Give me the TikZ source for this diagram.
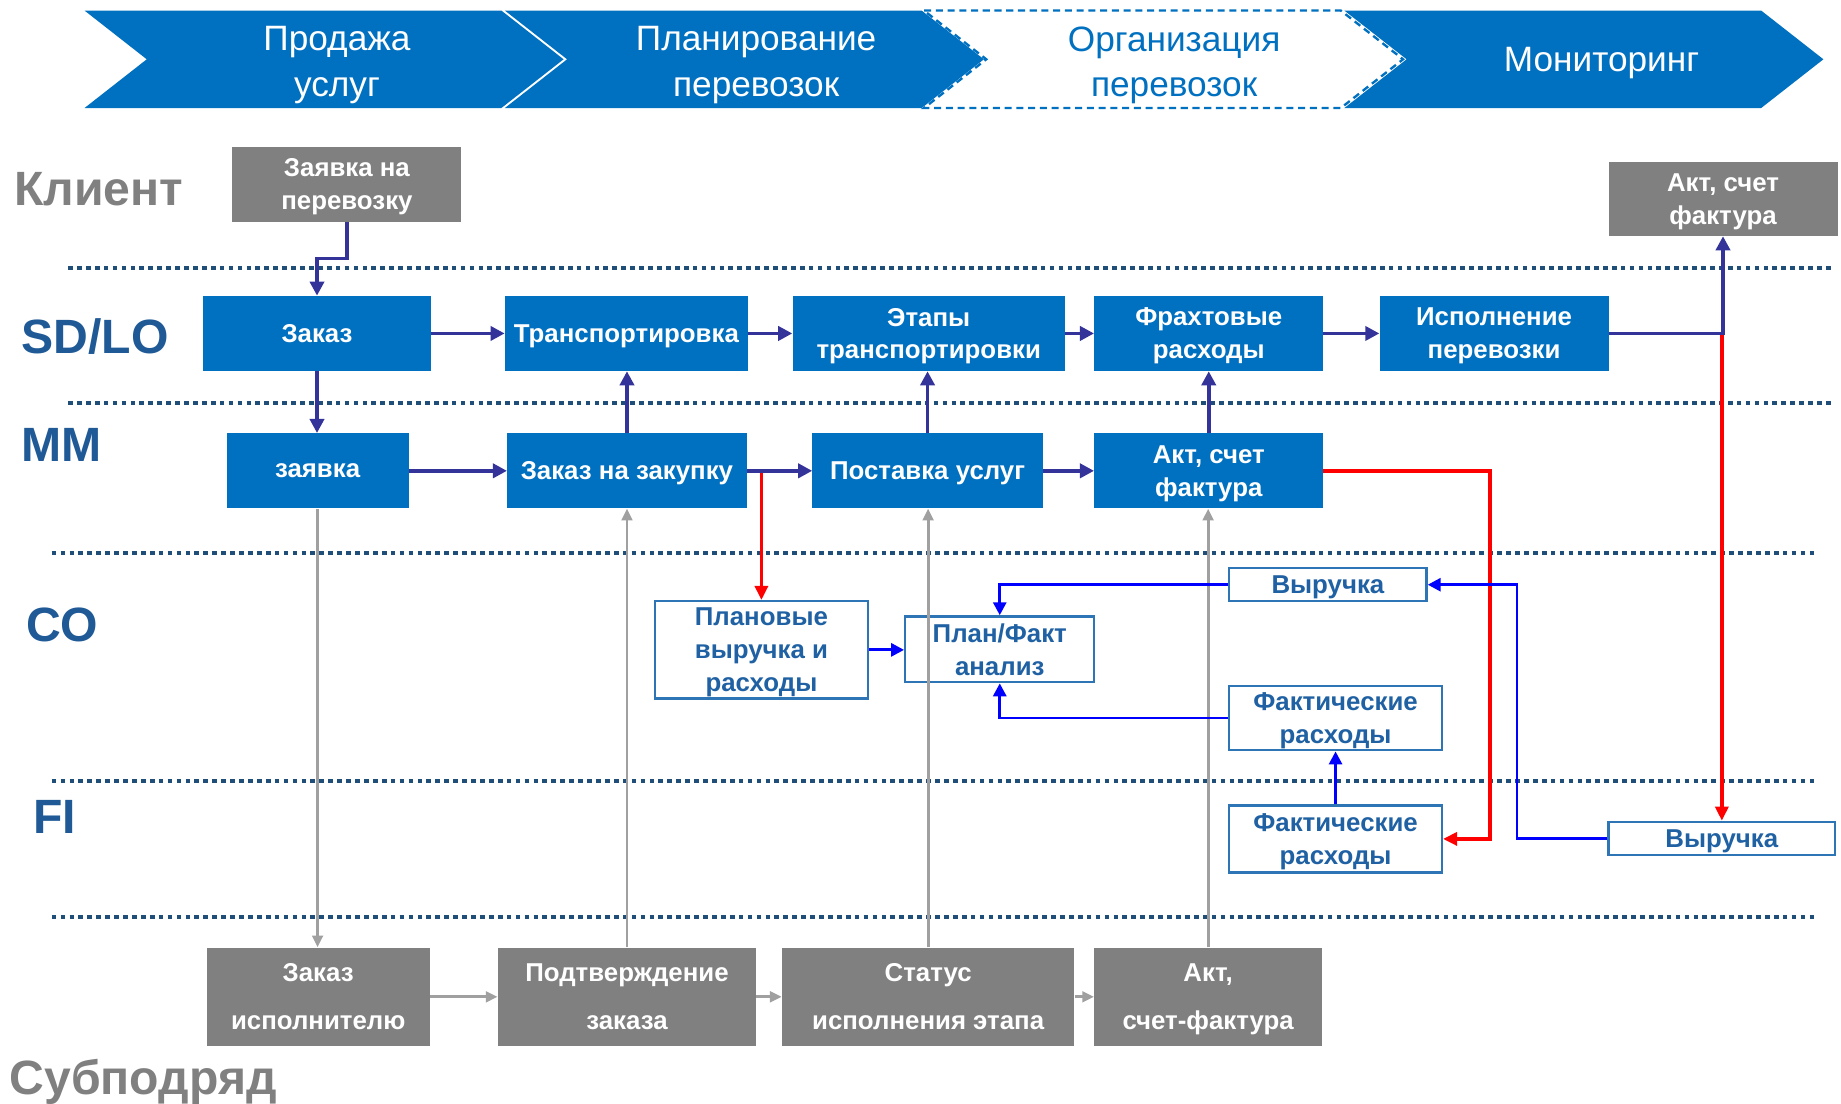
\documentclass[tikz,border=0pt]{standalone}
\usepackage{fontspec}
\setmainfont{Liberation Sans}
\usetikzlibrary{arrows.meta,positioning}
\definecolor{pblue}{RGB}{0,112,192}
\definecolor{pgray}{RGB}{128,128,128}
\definecolor{lane}{RGB}{31,89,150}
\definecolor{dotblue}{RGB}{31,78,121}
\definecolor{indigo}{RGB}{51,51,153}
\definecolor{cotext}{RGB}{31,97,163}
\definecolor{coedge}{RGB}{46,117,182}
\definecolor{garrow}{RGB}{160,160,160}
\tikzstyle{chev} = [fill=pblue]
\tikzstyle{chevtext} = [align=center,inner sep=0,text depth=0pt,font=\fontsize{30}{39}\selectfont]
\tikzstyle{lanetext} = [anchor=base west,inner sep=0,font=\fontsize{41}{48}\selectfont\bfseries]
\tikzstyle{lanesep} = [dotblue,line width=3.5pt,dash pattern=on 4pt off 3.6pt]
\tikzstyle{box} = [rectangle,inner sep=0,align=center,text depth=0pt,font=\fontsize{22}{28}\selectfont\bfseries]
\tikzstyle{bluebox} = [box,fill=pblue,text=white]
\tikzstyle{graybox} = [box,fill=pgray,text=white]
\tikzstyle{subbox} = [graybox,font=\fontsize{22}{41}\selectfont\bfseries]
\tikzstyle{cobox} = [box,draw=coedge,line width=2pt,fill=white,text=cotext]
\tikzstyle{flowline} = [indigo,line width=3pt,-{Triangle[length=12pt,width=12pt]}]
\tikzstyle{redline} = [red,line width=3pt,-{Triangle[length=12pt,width=11pt]}]
\tikzstyle{blueline} = [blue,line width=2.5pt,-{Triangle[length=11pt,width=11pt]}]
\tikzstyle{grayline} = [garrow,line width=2.5pt,-{Triangle[length=10pt,width=9pt]}]
\def \rowh {64}
\def \subh {84}

\begin{document}
\begin{tikzpicture}[x=1pt,y=-1pt]
  \useasboundingbox (0,0) rectangle (1568,940);
  \fill[chev] (72,9) -- ++(355,0) -- ++(53,41.5) -- ++(-53,41.5) -- ++(-355,0) -- ++(53,-41.5) -- cycle;
  \fill[chev] (430,9) -- ++(355,0) -- ++(53,41.5) -- ++(-53,41.5) -- ++(-355,0) -- ++(53,-41.5) -- cycle;
  \draw[pblue,line width=2pt,dash pattern=on 6pt off 4pt,fill=white] (787,9) -- ++(355,0) -- ++(53,41.5) -- ++(-53,41.5) -- ++(-355,0) -- ++(53,-41.5) -- cycle;
  \fill[chev] (1145,9) -- ++(355,0) -- ++(53,41.5) -- ++(-53,41.5) -- ++(-355,0) -- ++(53,-41.5) -- cycle;
  \node[chevtext,text=white] (sale) at (287,52.5) {Продажа\\услуг};
  \node[chevtext,text=white] (plng) at (644,52.5) {Планирование\\перевозок};
  \node[chevtext,text=pblue] (orgn) at (1000,52.5) {Организация\\перевозок};
  \node[chevtext,text=white] (mont) at (1364,51) {Мониторинг};

  \draw[lanesep] (58,228) -- (1560,228);
  \draw[lanesep] (58,343) -- (1560,343);
  \draw[lanesep] (44,471) -- (1548,471);
  \draw[lanesep] (44,665) -- (1548,665);
  \draw[lanesep] (44,781) -- (1548,781);

  \node[lanetext,text=pgray] (client) at (12,175) {Клиент};
  \node[lanetext,text=lane] (sdlo) at (18,301) {SD/LO};
  \node[lanetext,text=lane] (mm) at (18,393) {MM};
  \node[lanetext,text=lane] (co) at (22,546) {CO};
  \node[lanetext,text=lane] (fi) at (28,710) {FI};
  \node[lanetext,text=pgray] (subc) at (8,932) {Субподряд};

  \node[graybox,minimum width=195,minimum height=64] (req) at (295.5,157) {Заявка на\\перевозку};
  \node[graybox,minimum width=195,minimum height=63] (actc) at (1467.5,169.5) {Акт, счет\\фактура};

  \node[bluebox,minimum width=194,minimum height=\rowh] (order) at (270,284) {Заказ};
  \node[bluebox,minimum width=207,minimum height=\rowh] (transp) at (533.5,284) {Транспортировка};
  \node[bluebox,minimum width=232,minimum height=\rowh] (stages) at (791,284) {Этапы\\транспортировки};
  \node[bluebox,minimum width=195,minimum height=\rowh] (freight) at (1029.5,284) {Фрахтовые\\расходы};
  \node[bluebox,minimum width=195,minimum height=\rowh] (exec) at (1272.5,284) {Исполнение\\перевозки};

  \node[bluebox,minimum width=155,minimum height=\rowh] (request) at (270.5,401) {заявка};
  \node[bluebox,minimum width=204,minimum height=\rowh] (purchase) at (534,401) {Заказ на закупку};
  \node[bluebox,minimum width=196,minimum height=\rowh] (supply) at (790,401) {Поставка услуг};
  \node[bluebox,minimum width=195,minimum height=\rowh] (invoice) at (1029.5,401) {Акт, счет\\фактура};

  \node[cobox,minimum width=181,minimum height=83] (plan) at (648.5,553.5) {Плановые\\выручка и\\расходы};
  \node[cobox,minimum width=161,minimum height=56] (analysis) at (851.5,553) {План/Факт\\анализ};
  \node[cobox,minimum width=168,minimum height=28] (revco) at (1131,498) {Выручка};
  \node[cobox,minimum width=181,minimum height=55] (costco) at (1137.5,611.5) {Фактические\\расходы};
  \node[cobox,minimum width=181,minimum height=57] (costfi) at (1137.5,714.5) {Фактические\\расходы};
  \node[cobox,minimum width=193,minimum height=28] (revfi) at (1466.5,714) {Выручка};

  \node[subbox,minimum width=190,minimum height=\subh] (suborder) at (271,849) {Заказ\\исполнителю};
  \node[subbox,minimum width=220,minimum height=\subh] (confirm) at (534,849) {Подтверждение\\заказа};
  \node[subbox,minimum width=249,minimum height=\subh] (status) at (790.5,849) {Статус\\исполнения этапа};
  \node[subbox,minimum width=194,minimum height=\subh] (subinv) at (1029,849) {Акт,\\счет-фактура};

  \draw[grayline] (request.south) -- (request.south |- suborder.north);
  \draw[grayline] (confirm.north) -- (confirm.north |- purchase.south);
  \draw[grayline] (status.north) -- (status.north |- supply.south);
  \draw[grayline] (subinv.north) -- (subinv.north |- invoice.south);
  \draw[grayline] (suborder.east) -- (confirm.west);
  \draw[grayline] (confirm.east) -- (status.west);
  \draw[grayline] (status.east) -- (subinv.west);

  \draw[redline] (plan.north |- purchase.east) -- (plan.north);
  \draw[redline] (invoice.east) -- ++(142,0) |- (costfi.east);
  \draw[redline] (revfi.north |- exec.east) -- (revfi.north);

  \draw[blueline] (revco.west) -| (analysis.north);
  \draw[blueline] (costco.west) -| (analysis.south);
  \draw[blueline] (plan.east) -- (plan.east -| analysis.west);
  \draw[blueline] (costfi.north) -- (costco.south);
  \draw[blueline] (revfi.west) -- ++(-77,0) |- (revco.east);

  \draw[flowline] (req.south) -- ++(0,31) -| (order.north);
  \draw[flowline] (order.east) -- (transp.west);
  \draw[flowline] (transp.east) -- (stages.west);
  \draw[flowline] (stages.east) -- (freight.west);
  \draw[flowline] (freight.east) -- (exec.west);
  \draw[flowline] (exec.east) -| (actc.south);
  \draw[flowline] (order.south) -- (order.south |- request.north);
  \draw[flowline] (purchase.north) -- (purchase.north |- transp.south);
  \draw[flowline] (supply.north) -- (supply.north |- stages.south);
  \draw[flowline] (invoice.north) -- (freight.south);
  \draw[flowline] (request.east) -- (purchase.west);
  \draw[flowline] (purchase.east) -- (supply.west);
  \draw[flowline] (supply.east) -- (invoice.west);
\end{tikzpicture}
\end{document}
